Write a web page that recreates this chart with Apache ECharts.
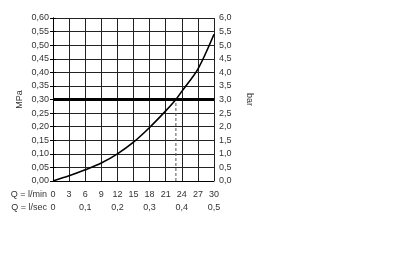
<!DOCTYPE html>
<html><head><meta charset="utf-8">
<script src="https://cdn.jsdelivr.net/npm/echarts@6/dist/echarts.min.js"></script>
<style>html,body{margin:0;padding:0;background:#fff}#c{width:400px;height:255px}</style>
</head><body><div id="c"></div>
<script>
// Flow (l/min) vs pressure (MPa)
const flowLmin = [0, 3, 6, 9, 12, 15, 18, 21, 22.9, 24, 27, 30];
const pressureMPa = [0, 0.019, 0.041, 0.066, 0.100, 0.143, 0.197, 0.258, 0.300, 0.330, 0.412, 0.540];
const refPressure = 0.30;
const refFlow = 22.9;
const xMinName = 'Q = l/min';
const xSecName = 'Q = l/sec';
const leftName = 'MPa';
const rightName = 'bar';

const font = 'Liberation Sans';
const txt = '#333';
const grid = '#222';
const chart = echarts.init(document.getElementById('c'), null, {renderer: 'canvas'});
const comma = (v, d) => v.toFixed(d).replace('.', ',');
chart.setOption({
  animation: false,
  backgroundColor: '#fff',
  grid: {left: 53, right: 186, top: 18, bottom: 74},
  graphic: [
    {type: 'text', right: 353, top: 190, style: {text: xMinName, fontFamily: font, fontSize: 9, fill: txt}},
    {type: 'text', right: 353, top: 203, style: {text: xSecName, fontFamily: font, fontSize: 9, fill: txt}}
  ],
  xAxis: [{
    type: 'value', min: 0, max: 30, interval: 3,
    axisLine: {show: true, lineStyle: {color: '#000', width: 1}},
    axisTick: {show: false},
    axisLabel: {fontFamily: font, fontSize: 9, color: txt, margin: 9},
    splitLine: {show: true, lineStyle: {color: grid, width: 1}}
  }, {
    type: 'value', min: 0, max: 0.5, interval: 0.1, position: 'bottom', offset: 13,
    axisLine: {show: false}, axisTick: {show: false}, splitLine: {show: false},
    axisLabel: {fontFamily: font, fontSize: 9, color: txt, margin: 9,
      formatter: v => v === 0 ? '0' : comma(v, 1)}
  }],
  yAxis: [{
    type: 'value', min: 0, max: 0.6, interval: 0.05,
    name: leftName, nameLocation: 'middle', nameGap: 29, nameRotate: 90,
    nameTextStyle: {fontFamily: font, fontSize: 9, color: txt},
    axisLine: {show: true, lineStyle: {color: '#000', width: 1}},
    axisTick: {show: true, length: 3, lineStyle: {color: '#000'}},
    axisLabel: {fontFamily: font, fontSize: 9, color: txt, margin: 4, formatter: v => comma(v, 2)},
    splitLine: {show: true, lineStyle: {color: grid, width: 1}}
  }, {
    type: 'value', min: 0, max: 6, interval: 0.5, position: 'right',
    name: rightName, nameLocation: 'middle', nameGap: 31, nameRotate: -90,
    nameTextStyle: {fontFamily: font, fontSize: 9, color: txt},
    axisLine: {show: true, lineStyle: {color: '#000', width: 1}},
    axisTick: {show: true, length: 3, lineStyle: {color: '#000'}},
    axisLabel: {fontFamily: font, fontSize: 9, color: txt, margin: 5, formatter: v => comma(v, 1)},
    splitLine: {show: false}
  }],
  series: [{
    type: 'line', xAxisIndex: 0, yAxisIndex: 0, smooth: 0.3, showSymbol: false,
    lineStyle: {color: '#000', width: 1.6},
    data: flowLmin.map((q, i) => [q, pressureMPa[i]]), z: 5
  }, {
    type: 'line', xAxisIndex: 0, yAxisIndex: 0, showSymbol: false,
    lineStyle: {color: '#000', width: 3},
    data: [[0, refPressure], [30, refPressure]], z: 4
  }, {
    type: 'line', xAxisIndex: 0, yAxisIndex: 0, showSymbol: false,
    lineStyle: {color: '#555', width: 1, type: [3, 2]},
    data: [[refFlow, 0], [refFlow, refPressure]], z: 4
  }]
});
</script></body></html>
